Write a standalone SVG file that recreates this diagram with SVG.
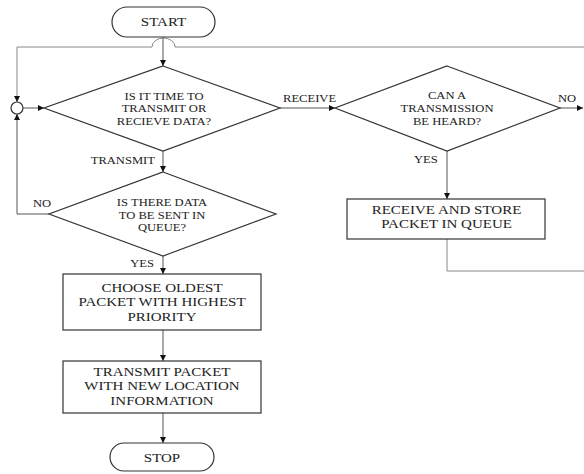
<svg xmlns="http://www.w3.org/2000/svg" width="584" height="474" viewBox="0 0 584 474">
<style>
.shape{fill:#fff;stroke:#333;stroke-width:1.2}
.conn{fill:none;stroke:#555;stroke-width:1}
.loop{fill:none;stroke:#888;stroke-width:1}
text{font-family:"Liberation Serif","Times New Roman",serif;fill:#222}
.s{font-size:10.5px}
.b{font-size:12.5px}
.m{text-anchor:middle}
.e{text-anchor:end}
</style>
<defs>
<marker id="ah" viewBox="0 0 10 10" refX="10" refY="5" markerWidth="6" markerHeight="6" orient="auto" markerUnits="userSpaceOnUse">
<path d="M0,0 L10,5 L0,10 z" fill="#111"/>
</marker>
</defs>
<rect width="584" height="474" fill="#fff"/>
<g id="connectors">
<path class="conn" d="M163,37 V66" marker-end="url(#ah)"/>
<path class="loop" d="M584,47 H175 A11.5,9 0 0 0 152,47 H17 V102" marker-end="url(#ah)"/>
<path class="conn" d="M23,108 H44" marker-end="url(#ah)"/>
<path class="conn" d="M49,214 H17 V114" marker-end="url(#ah)"/>
<path class="conn" d="M163,151 V172" marker-end="url(#ah)"/>
<path class="conn" d="M163,256 V274" marker-end="url(#ah)"/>
<path class="conn" d="M163,330 V361" marker-end="url(#ah)"/>
<path class="conn" d="M163,413 V443" marker-end="url(#ah)"/>
<path class="conn" d="M280,108 H335" marker-end="url(#ah)"/>
<path class="conn" d="M560,108 H583" marker-end="url(#ah)"/>
<path class="conn" d="M447,151 V199" marker-end="url(#ah)"/>
<path class="loop" d="M447,239 V271 H584"/>
<circle class="shape" cx="17" cy="108" r="6"/>
<text class="s e" transform="translate(155 164) scale(1.2 1)">TRANSMIT</text>
<text class="s" transform="translate(33 207) scale(1.2 1)">NO</text>
<text class="s e" transform="translate(154 267) scale(1.2 1)">YES</text>
<text class="s" transform="translate(283 102) scale(1.2 1)">RECEIVE</text>
<text class="s" transform="translate(558 102) scale(1.2 1)">NO</text>
<text class="s" transform="translate(414 163) scale(1.2 1)">YES</text>
</g>
<g id="start">
<rect class="shape" x="112" y="7" width="103" height="30" rx="15"/>
<text class="b m" transform="translate(163.5 26) scale(1.2 1)">START</text>
</g>
<g id="decide-mode">
<polygon class="shape" points="163,66 280,108 163,151 44,108"/>
<text class="s m" transform="translate(164 0) scale(1.2 1)"><tspan x="0" y="100">IS IT TIME TO</tspan><tspan x="0" y="112.5">TRANSMIT OR</tspan><tspan x="0" y="125">RECIEVE DATA?</tspan></text>
</g>
<g id="data-in-queue">
<polygon class="shape" points="163,172 276,214 163,256 49,214"/>
<text class="s m" transform="translate(162 0) scale(1.2 1)"><tspan x="0" y="206.5">IS THERE DATA</tspan><tspan x="0" y="219">TO BE SENT IN</tspan><tspan x="0" y="231.5">QUEUE?</tspan></text>
</g>
<g id="choose-packet">
<rect class="shape" x="63" y="274" width="198" height="56"/>
<text class="b m" transform="translate(162 0) scale(1.2 1)"><tspan x="0" y="292">CHOOSE OLDEST</tspan><tspan x="0" y="306.5">PACKET WITH HIGHEST</tspan><tspan x="0" y="321">PRIORITY</tspan></text>
</g>
<g id="transmit-packet">
<rect class="shape" x="63" y="361" width="198" height="52"/>
<text class="b m" transform="translate(162 0) scale(1.2 1)"><tspan x="0" y="376">TRANSMIT PACKET</tspan><tspan x="0" y="390.5">WITH NEW LOCATION</tspan><tspan x="0" y="405">INFORMATION</tspan></text>
</g>
<g id="stop">
<rect class="shape" x="110" y="443" width="104" height="28" rx="14"/>
<text class="b m" transform="translate(162 462) scale(1.2 1)">STOP</text>
</g>
<g id="heard">
<polygon class="shape" points="447,66 560,108 447,151 335,108"/>
<text class="s m" transform="translate(447 0) scale(1.2 1)"><tspan x="0" y="99">CAN A</tspan><tspan x="0" y="112">TRANSMISSION</tspan><tspan x="0" y="125">BE HEARD?</tspan></text>
</g>
<g id="receive-store">
<rect class="shape" x="347" y="199" width="198" height="40"/>
<text class="b m" transform="translate(446.5 0) scale(1.2 1)"><tspan x="0" y="214">RECEIVE AND STORE</tspan><tspan x="0" y="228.5">PACKET IN QUEUE</tspan></text>
</g>
</svg>
